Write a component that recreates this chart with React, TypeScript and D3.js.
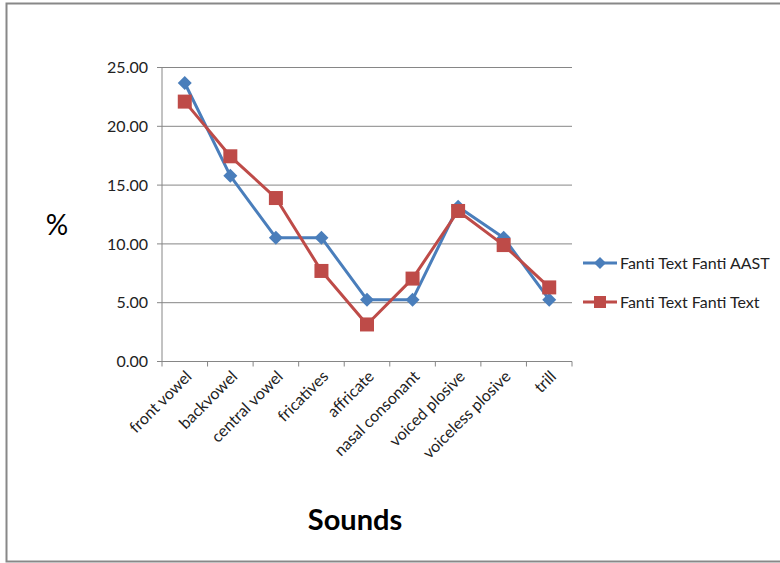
import React from "react";
import * as d3 from "d3";

const categories = [
  "front vowel",
  "backvowel",
  "central vowel",
  "fricatives",
  "affricate",
  "nasal consonant",
  "voiced plosive",
  "voiceless plosive",
  "trill",
];
const seriesAAST = [23.68, 15.79, 10.53, 10.53, 5.26, 5.26, 13.16, 10.53, 5.26];
const seriesText = [22.1, 17.45, 13.9, 7.7, 3.15, 7.05, 12.8, 9.9, 6.3];
const yTicks = [0, 5, 10, 15, 20, 25];
const seriesNames = ["Fanti Text Fanti AAST", "Fanti Text Fanti Text"];

const BLUE = "#4a7ebb";
const RED = "#be4b48";
const FONT = "Lato, 'Open Sans', sans-serif";

export default function App() {
  const left = 162;
  const right = 572;
  const top = 67.5;
  const bottom = 361.5;
  const x = d3.scaleBand<string>().domain(categories).range([left, right]);
  const y = d3.scaleLinear().domain([0, 25]).range([bottom, top]);
  const cx = (c: string) => (x(c) as number) + x.bandwidth() / 2;
  const line = d3
    .line<number>()
    .x((_, i) => cx(categories[i]))
    .y((d) => y(d));

  const diamond = (px: number, py: number, r: number) =>
    `M${px},${py - r}L${px + r},${py}L${px},${py + r}L${px - r},${py}Z`;

  const ticksX = [...categories.map((c) => x(c) as number), right];

  return (
    <svg
      width={780}
      height={563}
      style={{ position: "absolute", left: 0, top: 0, background: "#fff" }}
      fontFamily={FONT}
    >
      <rect x={6.5} y={3.5} width={800} height={558} fill="#fff" stroke="#888" strokeWidth={2} />
      {yTicks.map((t) => (
        <g key={t}>
          <line x1={left} x2={right} y1={y(t)} y2={y(t)} stroke="#868686" strokeWidth={1} />
          <line x1={left - 5} x2={left} y1={y(t)} y2={y(t)} stroke="#868686" />
          <text x={left - 14} y={y(t)} dy="0.35em" textAnchor="end" fontSize={16} fill="#222">
            {t.toFixed(2)}
          </text>
        </g>
      ))}
      <line x1={left} x2={left} y1={top} y2={bottom} stroke="#868686" />
      {ticksX.map((t, i) => (
        <line key={i} x1={t} x2={t} y1={bottom} y2={bottom + 5} stroke="#868686" />
      ))}
      {categories.map((c) => (
        <text
          key={c}
          transform={`translate(${cx(c) + 4},${bottom + 12}) rotate(-45)`}
          textAnchor="end"
          dy="0.35em"
          fontSize={16}
          fill="#222"
        >
          {c}
        </text>
      ))}
      <path d={line(seriesAAST) || ""} fill="none" stroke={BLUE} strokeWidth={3} strokeLinejoin="round" />
      <path d={line(seriesText) || ""} fill="none" stroke={RED} strokeWidth={3} strokeLinejoin="round" />
      {seriesAAST.map((v, i) => (
        <path key={"a" + i} d={diamond(cx(categories[i]), y(v), 7)} fill={BLUE} />
      ))}
      {seriesText.map((v, i) => (
        <rect key={"t" + i} x={cx(categories[i]) - 7} y={y(v) - 7} width={14} height={14} fill={RED} />
      ))}
      <text x={57} y={225} dy="0.35em" textAnchor="middle" fontSize={28} fill="#000">
        %
      </text>
      <text x={355} y={520} dy="0.35em" textAnchor="middle" fontSize={29} fontWeight="bold" fill="#000">
        Sounds
      </text>
      <g>
        <line x1={583} x2={617} y1={263} y2={263} stroke={BLUE} strokeWidth={3} />
        <path d={diamond(600, 263, 6)} fill={BLUE} />
        <text x={620} y={263} dy="0.35em" fontSize={16} fill="#222">
          {seriesNames[0]}
        </text>
        <line x1={583} x2={617} y1={302} y2={302} stroke={RED} strokeWidth={3} />
        <rect x={594} y={296} width={12} height={12} fill={RED} />
        <text x={620} y={302} dy="0.35em" fontSize={16} fill="#222">
          {seriesNames[1]}
        </text>
      </g>
    </svg>
  );
}
